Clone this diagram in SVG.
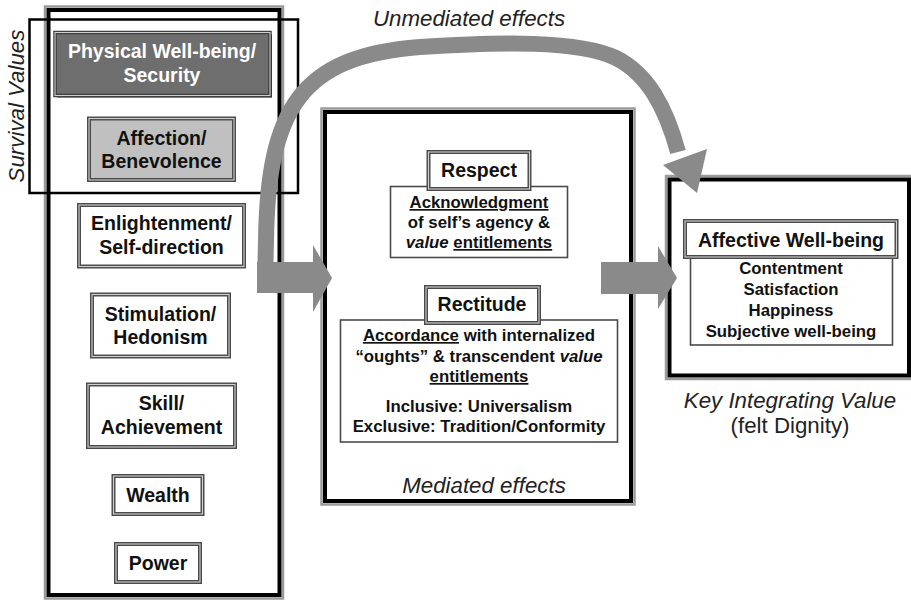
<svg xmlns="http://www.w3.org/2000/svg" width="911" height="601" viewBox="0 0 911 601">
<style>
  text { font-family: "Liberation Sans", Arial, sans-serif; fill: #111; }
  .b { font-weight: bold; font-size: 19.5px; text-anchor: middle; }
  .d { font-weight: bold; font-size: 16.8px; text-anchor: middle; }
  .lab { font-style: italic; font-size: 22.3px; text-anchor: middle; fill: #222; }
  .reg { font-size: 22.3px; text-anchor: middle; fill: #222; }
  .u { text-decoration: underline; }
  .i { font-style: italic; }
  .frame-out { fill: none; stroke: #9a9a9a; stroke-width: 2.5; }
  .frame-in { fill: none; stroke: #000; stroke-width: 4; }
  .box { fill: #fff; stroke: #4a4a4a; stroke-width: 4; }
  .box-line { fill: none; stroke: #cfcfcf; stroke-width: 1.1; }
  .desc { fill: #fff; stroke: #4a4a4a; stroke-width: 1.6; }
  .arrow { fill: #8a8a8a; }
</style>

<!-- frames -->
<g id="survival-frame">
  <rect class="frame-out" x="45" y="6.5" width="238" height="592"/>
  <rect class="frame-in" x="48.5" y="10" width="231" height="585"/>
  <rect x="29.5" y="19.5" width="268.5" height="173.5" fill="none" stroke="#000" stroke-width="2.5"/>
  <text class="lab" transform="translate(24,106) rotate(-90)">Survival Values</text>
</g>

<g id="mediated-frame">
  <rect class="frame-out" x="321.5" y="108.5" width="313" height="396"/>
  <rect class="frame-in" x="325" y="112" width="306" height="389"/>
  <text class="lab" x="484" y="493">Mediated effects</text>
</g>

<g id="integrating-frame">
  <rect class="frame-out" x="666" y="176" width="247" height="203"/>
  <rect class="frame-in" x="669.5" y="179.5" width="239.5" height="196"/>
  <text class="lab" x="790" y="408">Key Integrating Value</text>
  <text class="reg" x="790" y="433">(felt Dignity)</text>
</g>

<!-- left column nodes -->
<g id="physical">
  <rect x="57" y="34.5" width="215" height="63" fill="#2e2e2e"/>
  <rect x="55" y="32.5" width="215" height="63" fill="#6e6e6e" stroke="#3a3a3a" stroke-width="3.5"/>
  <rect class="box-line" x="55" y="32.5" width="215" height="63" stroke="#9a9a9a"/>
  <text class="b" x="162" y="58" style="fill:#fff">Physical Well-being/</text>
  <text class="b" x="162" y="82" style="fill:#fff">Security</text>
</g>

<g id="affection">
  <rect class="box" x="89" y="118.5" width="145" height="61.5" style="fill:#c0c0c0"/>
  <rect class="box-line" x="89" y="118.5" width="145" height="61.5"/>
  <text class="b" x="161.5" y="145">Affection/</text>
  <text class="b" x="161.5" y="168">Benevolence</text>
</g>

<g id="enlightenment">
  <rect class="box" x="79" y="205" width="165" height="61.5"/>
  <rect class="box-line" x="79" y="205" width="165" height="61.5"/>
  <text class="b" x="161.5" y="230">Enlightenment/</text>
  <text class="b" x="161.5" y="253.5">Self-direction</text>
</g>

<g id="stimulation">
  <rect class="box" x="92" y="294.5" width="137" height="62"/>
  <rect class="box-line" x="92" y="294.5" width="137" height="62"/>
  <text class="b" x="160.5" y="320.5">Stimulation/</text>
  <text class="b" x="160.5" y="344">Hedonism</text>
</g>

<g id="skill">
  <rect class="box" x="88" y="384.5" width="147" height="62.5"/>
  <rect class="box-line" x="88" y="384.5" width="147" height="62.5"/>
  <text class="b" x="161.5" y="410">Skill/</text>
  <text class="b" x="161.5" y="433.5">Achievement</text>
</g>

<g id="wealth">
  <rect class="box" x="113.5" y="476" width="89" height="38"/>
  <rect class="box-line" x="113.5" y="476" width="89" height="38"/>
  <text class="b" x="158" y="502">Wealth</text>
</g>

<g id="power">
  <rect class="box" x="116" y="544" width="84" height="38"/>
  <rect class="box-line" x="116" y="544" width="84" height="38"/>
  <text class="b" x="158" y="570">Power</text>
</g>

<!-- middle nodes -->
<g id="respect">
  <rect class="desc" x="390.5" y="186.5" width="177" height="71"/>
  <rect class="box" x="428.5" y="152" width="101" height="37"/>
  <rect class="box-line" x="428.5" y="152" width="101" height="37"/>
  <text class="b" x="479" y="177">Respect</text>
  <text class="d" x="479" y="208"><tspan class="u">Acknowledgment</tspan></text>
  <text class="d" x="479" y="228">of self’s agency &amp;</text>
  <text class="d" x="479" y="248"><tspan class="i">value</tspan> <tspan class="u">entitlements</tspan></text>
</g>

<g id="rectitude">
  <rect class="desc" x="340.5" y="320" width="277" height="122"/>
  <rect class="box" x="426" y="287" width="113" height="36"/>
  <rect class="box-line" x="426" y="287" width="113" height="36"/>
  <text class="b" x="482" y="311">Rectitude</text>
  <text class="d" x="479" y="341"><tspan class="u">Accordance</tspan> with internalized</text>
  <text class="d" x="479" y="362">“oughts” &amp; transcendent <tspan class="i">value</tspan></text>
  <text class="d" x="479" y="382"><tspan class="u">entitlements</tspan></text>
  <text class="d" x="479" y="412">Inclusive: Universalism</text>
  <text class="d" x="479" y="432">Exclusive: Tradition/Conformity</text>
</g>

<!-- right node -->
<g id="affective">
  <rect class="desc" x="690.5" y="257" width="202" height="88"/>
  <rect class="box" x="685" y="221" width="211.5" height="36"/>
  <rect class="box-line" x="685" y="221" width="211.5" height="36"/>
  <text class="b" x="791" y="247">Affective Well-being</text>
  <text class="d" x="791" y="274">Contentment</text>
  <text class="d" x="791" y="295">Satisfaction</text>
  <text class="d" x="791" y="316">Happiness</text>
  <text class="d" x="791" y="337">Subjective well-being</text>
</g>

<!-- connectors -->
<g id="connectors">
  <path d="M 265 285 L 266 240 C 268 110 300 56 420 47 C 500 42 578 40 616 58 C 648 74 666 108 678 152" fill="none" stroke="#8a8a8a" stroke-width="16"/>
  <polygon class="arrow" points="663,165 707,149 697,193"/>
  <rect class="arrow" x="257" y="262" width="57" height="31"/>
  <polygon class="arrow" points="313,245 332,278 313,312"/>
  <rect class="arrow" x="601" y="262" width="58" height="32"/>
  <polygon class="arrow" points="658,246 677,278 658,309"/>
  <text class="lab" x="469" y="26">Unmediated effects</text>
</g>
</svg>
